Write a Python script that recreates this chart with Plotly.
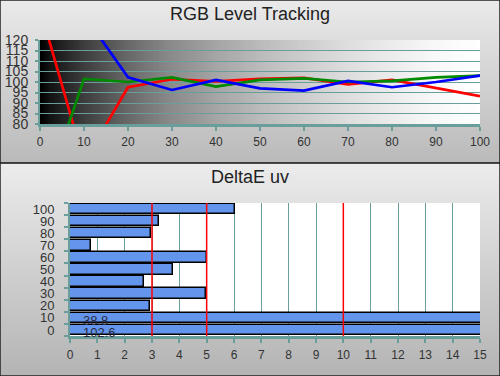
import base64, struct, zlib
import plotly.graph_objects as go

# ---------------- data ----------------
levels = [0, 10, 20, 30, 40, 50, 60, 70, 80, 90, 100]
red_vals = [135, 62, 97.5, 101.3, 100.3, 101.5, 102, 98.9, 101, 97, 93.3]
green_vals = [40, 101.5, 100, 102.2, 97.8, 101, 101.7, 100, 100.5, 102.2, 103]
blue_vals = [150, 132, 102.2, 96.2, 101, 97, 95.9, 100.5, 97.5, 100, 103]

de_levels = [0, 10, 20, 30, 40, 50, 60, 70, 80, 90, 100]
de_values = [102.6, 38.8, 2.93, 4.98, 2.72, 3.78, 5.0, 0.78, 2.95, 3.25, 6.05]
de_thresholds = [3, 5, 10]
x_ticks_top = list(range(0, 101, 10))
y_ticks_top = list(range(80, 121, 5))
x_ticks_bot = list(range(0, 16))

FONT = "Arial, Liberation Sans, sans-serif"
TEAL = "#6a9e9a"
W, H = 500, 376


# ---------------- gradient images ----------------
def png_uri(w, h, pix):
    raw = b"".join(b"\x00" + bytes(sum((list(p) for p in pix[r * w:(r + 1) * w]), [])) for r in range(h))

    def chunk(t, d):
        c = struct.pack(">I", len(d)) + t + d
        return c + struct.pack(">I", zlib.crc32(t + d) & 0xffffffff)

    png = b"\x89PNG\r\n\x1a\n" + chunk(b"IHDR", struct.pack(">IIBBBBB", w, h, 8, 2, 0, 0, 0)) \
        + chunk(b"IDAT", zlib.compress(raw)) + chunk(b"IEND", b"")
    return "data:image/png;base64," + base64.b64encode(png).decode()


def interp(stops, t):
    for (a, ca), (b, cb) in zip(stops, stops[1:]):
        if a <= t <= b:
            f = (t - a) / (b - a) if b > a else 0
            return int(round(ca + (cb - ca) * f))
    return stops[-1][1]


N = 256
plot_stops = [(0, 0), (0.02, 18), (0.1, 62), (0.2, 105), (0.3, 140), (0.4, 165), (0.5, 187),
              (0.6, 205), (0.7, 222), (0.8, 236), (0.9, 248), (1.0, 255)]
plot_grad = png_uri(N, 1, [(g, g, g) for g in (interp(plot_stops, i / (N - 1)) for i in range(N))])
top_stops = [(0, 234), (1, 186)]
top_grad = png_uri(1, N, [(g, g, g) for g in (interp(top_stops, i / (N - 1)) for i in range(N))])
bot_stops = [(0, 236), (1, 180)]
bot_grad = png_uri(1, N, [(g, g, g) for g in (interp(bot_stops, i / (N - 1)) for i in range(N))])

split = 1 - 163 / H

fig = go.Figure()

for vals, col in [(red_vals, "#ff0000"), (green_vals, "#008a00"), (blue_vals, "#0000ff")]:
    fig.add_trace(go.Scatter(x=levels, y=vals, mode="lines", line=dict(color=col, width=2.7),
                             xaxis="x", yaxis="y", showlegend=False, hoverinfo="skip"))

fig.add_trace(go.Bar(y=de_levels, x=de_values, orientation="h", width=8.7,
                     marker=dict(color="#6495ed", line=dict(color="#000000", width=1.5)),
                     xaxis="x2", yaxis="y2", showlegend=False, hoverinfo="skip"))

images = [
    dict(source=top_grad, xref="paper", yref="paper", x=0, y=1, sizex=1, sizey=1 - split,
         xanchor="left", yanchor="top", sizing="stretch", layer="below"),
    dict(source=bot_grad, xref="paper", yref="paper", x=0, y=split, sizex=1, sizey=split,
         xanchor="left", yanchor="top", sizing="stretch", layer="below"),
    dict(source=plot_grad, xref="x", yref="y", x=0, y=120, sizex=100, sizey=40,
         xanchor="left", yanchor="top", sizing="stretch", layer="below"),
]

shapes = [
    dict(type="rect", xref="x2 domain", yref="y2 domain", x0=0, x1=1, y0=0, y1=1,
         fillcolor="white", line=dict(width=0), layer="below"),
    dict(type="line", xref="paper", yref="paper", x0=0, x1=1, y0=split, y1=split,
         line=dict(color="#111111", width=1.5)),
    dict(type="rect", xref="paper", yref="paper", x0=0, x1=1, y0=0, y1=1,
         line=dict(color="#222222", width=1.5)),
]
for t in de_thresholds:
    shapes.append(dict(type="line", xref="x2", yref="y2 domain", x0=t, x1=t, y0=0, y1=1,
                       line=dict(color="#ff0000", width=1.5), layer="above"))

annotations = [
    dict(text="RGB Level Tracking", xref="paper", yref="paper", x=0.5, y=1 - 14 / H,
         xanchor="center", yanchor="middle", showarrow=False, font=dict(family=FONT, size=18, color="#222")),
    dict(text="DeltaE uv", xref="paper", yref="paper", x=0.5, y=1 - 177 / H,
         xanchor="center", yanchor="middle", showarrow=False, font=dict(family=FONT, size=18, color="#222")),
]
for lv, v in zip(de_levels, de_values):
    if v > 15:
        annotations.append(dict(text=f"{v:.1f}", xref="x2", yref="y2", x=0.42, y=lv, xanchor="left",
                                yanchor="middle", yshift=-3, showarrow=False,
                                font=dict(family=FONT, size=13, color="#2a2a40")))

fig.update_layout(
    width=W, height=H, margin=dict(l=0, r=0, t=0, b=0),
    paper_bgcolor="#d0d0d0", plot_bgcolor="rgba(0,0,0,0)",
    images=images, shapes=shapes, annotations=annotations, bargap=0,
    xaxis=dict(domain=[40 / W, 480 / W], anchor="y", range=[0, 100], tickvals=x_ticks_top,
               automargin=False,
               showgrid=False, zeroline=False, showline=True, linecolor=TEAL, linewidth=2.5,
               ticks="outside", ticklen=4, tickwidth=2, tickcolor=TEAL, ticklabelstandoff=1,
               tickfont=dict(family=FONT, size=12, color="#333")),
    yaxis=dict(domain=[1 - 124 / H, 1 - 40 / H], anchor="x", range=[80, 120], tickvals=y_ticks_top,
               automargin=False,
               showgrid=True, gridcolor=TEAL, gridwidth=1.2, zeroline=False, showline=True,
               linecolor=TEAL, linewidth=2, ticks="outside", ticklen=3, tickwidth=1.5, tickcolor=TEAL,
               ticklabelstandoff=4, tickfont=dict(family=FONT, size=14, color="#333")),
    xaxis2=dict(domain=[70 / W, 480 / W], anchor="y2", range=[0, 15], tickvals=x_ticks_bot,
                automargin=False,
                showgrid=True, gridcolor=TEAL, gridwidth=1.2, zeroline=False, showline=True,
                linecolor=TEAL, linewidth=2.5, ticks="outside", ticklen=4, tickwidth=2, tickcolor=TEAL,
                ticklabelstandoff=2, tickfont=dict(family=FONT, size=12, color="#333")),
    yaxis2=dict(domain=[1 - 336 / H, 1 - 203 / H], anchor="x2", range=[-5, 105], tickvals=de_levels,
                automargin=False,
                showgrid=False, zeroline=False, showline=True, linecolor=TEAL, linewidth=2,
                ticks="", ticklabelstandoff=11, tickfont=dict(family=FONT, size=13, color="#333"),
                minor=dict(tick0=-5, dtick=10, ticks="outside", ticklen=4, tickwidth=1.5,
                           tickcolor=TEAL, showgrid=False)),
)

fig.write_html("out.html", config={"displayModeBar": False},
               post_script="document.body.style.margin='0';")
